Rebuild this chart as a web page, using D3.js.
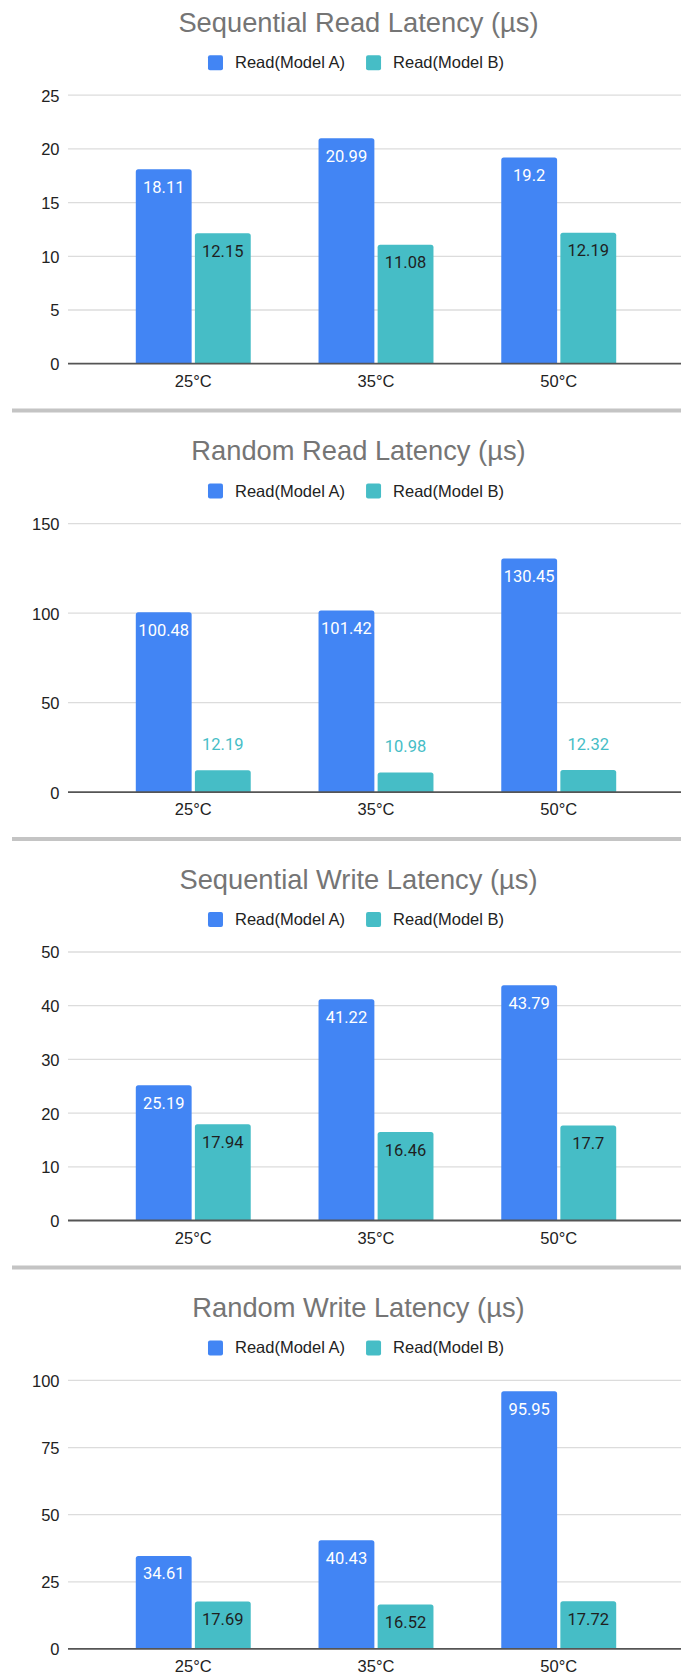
<!DOCTYPE html>
<html>
<head>
<meta charset="utf-8">
<script src="https://cdn.jsdelivr.net/npm/d3@7"></script>
<style>
  html, body { margin: 0; padding: 0; background: #fff; }
  svg { display: block; }
</style>
</head>
<body>
<svg id="chart" width="681" height="1677"></svg>
<script>
// Temperature categories shared by every panel
const categories = ["25°C", "35°C", "50°C"];
const seriesNames = ["Read(Model A)", "Read(Model B)"];
const seriesColors = ["#4285F4", "#46BDC6"];

// Panel titles
const panelTitles = [
  "Sequential Read Latency (µs)",
  "Random Read Latency (µs)",
  "Sequential Write Latency (µs)",
  "Random Write Latency (µs)"
];

// Latency values (µs) per panel, model A then model B
const seqReadA = [18.11, 20.99, 19.2];
const seqReadB = [12.15, 11.08, 12.19];
const randReadA = [100.48, 101.42, 130.45];
const randReadB = [12.19, 10.98, 12.32];
const seqWriteA = [25.19, 41.22, 43.79];
const seqWriteB = [17.94, 16.46, 17.7];
const randWriteA = [34.61, 40.43, 95.95];
const randWriteB = [17.69, 16.52, 17.72];

// Y-axis ticks per panel
const seqReadTicks = [0, 5, 10, 15, 20, 25];
const randReadTicks = [0, 50, 100, 150];
const seqWriteTicks = [0, 10, 20, 30, 40, 50];
const randWriteTicks = [0, 25, 50, 75, 100];

const panels = [
  { title: panelTitles[0], a: seqReadA, b: seqReadB, ticks: seqReadTicks },
  { title: panelTitles[1], a: randReadA, b: randReadB, ticks: randReadTicks },
  { title: panelTitles[2], a: seqWriteA, b: seqWriteB, ticks: seqWriteTicks },
  { title: panelTitles[3], a: randWriteA, b: randWriteB, ticks: randWriteTicks }
];

const svg = d3.select("#chart");
const W = 681;
const period = 428.4;
const firstTop = -17.8;
const plotLeft = 68, plotRight = 684;
const axisFont = "'Liberation Sans', Arial, Helvetica, sans-serif";
const labelFont = "Roboto, 'Liberation Sans', Arial, sans-serif";

// Rounded-top bar path
function barPath(x, y, w, h, r) {
  r = Math.min(r, h, w / 2);
  return `M${x},${y + h}V${y + r}Q${x},${y} ${x + r},${y}H${x + w - r}Q${x + w},${y} ${x + w},${y + r}V${y + h}Z`;
}

const x0 = d3.scaleBand().domain(categories).range([plotLeft, plotRight]).padding(0.371);
const x1 = d3.scaleBand().domain(seriesNames).range([0, x0.bandwidth()]).paddingInner(0.055);

panels.forEach((p, i) => {
  const top = firstTop + period * i;
  const g = svg.append("g");

  // separator above the panel
  if (i > 0) {
    g.append("line")
      .attr("x1", 12).attr("x2", W)
      .attr("y1", top).attr("y2", top)
      .attr("stroke", "#c4c4c4").attr("stroke-width", 4);
  }

  // title
  g.append("text")
    .attr("x", 358.5).attr("y", top + 49.5)
    .attr("text-anchor", "middle")
    .attr("font-family", axisFont).attr("font-size", 27.3)
    .attr("fill", "#757575")
    .text(p.title);

  // legend
  const legend = g.append("g");
  let lx = 0;
  seriesNames.forEach((name, k) => {
    const item = legend.append("g").attr("transform", `translate(${lx},0)`);
    item.append("rect")
      .attr("x", 0).attr("y", top + 73).attr("width", 15).attr("height", 15)
      .attr("rx", 2).attr("fill", seriesColors[k]);
    const t = item.append("text")
      .attr("x", 27).attr("y", top + 86)
      .attr("font-family", axisFont).attr("font-size", 16.5)
      .attr("fill", "#222")
      .text(name);
    lx += 27 + t.node().getComputedTextLength() + 21;
  });
  const legendWidth = lx - 21;
  legend.attr("transform", `translate(${356 - legendWidth / 2},0)`);

  // scales
  const yMax = p.ticks[p.ticks.length - 1];
  const y = d3.scaleLinear().domain([0, yMax]).range([top + 381.5, top + 113]);

  // gridlines
  g.append("g").selectAll("line")
    .data(p.ticks.filter(t => t > 0))
    .join("line")
    .attr("x1", plotLeft).attr("x2", plotRight)
    .attr("y1", d => y(d)).attr("y2", d => y(d))
    .attr("stroke", "#dcdcdc").attr("stroke-width", 1.3);

  // y axis labels
  const yAxis = d3.axisLeft(y).tickValues(p.ticks).tickSize(0).tickPadding(0).tickFormat(d3.format("d"));
  const ya = g.append("g").attr("transform", `translate(59.5,0)`).call(yAxis);
  ya.select(".domain").remove();
  ya.selectAll("text")
    .attr("font-family", axisFont).attr("font-size", 16.5)
    .attr("fill", "#222").attr("dy", "0.36em");

  // bars
  const groups = g.append("g").selectAll("g")
    .data(categories.map((c, j) => ({ cat: c, vals: [p.a[j], p.b[j]] })))
    .join("g")
    .attr("transform", d => `translate(${x0(d.cat)},0)`);

  groups.selectAll("path")
    .data(d => d.vals.map((v, k) => ({ v, k })))
    .join("path")
    .attr("d", d => {
      const bx = x1(seriesNames[d.k]);
      const by = y(d.v);
      return barPath(bx, by, x1.bandwidth(), y(0) - by, 2.5);
    })
    .attr("fill", d => seriesColors[d.k]);

  // value labels: inside the bar top, or above it when the bar is short
  groups.selectAll("text")
    .data(d => d.vals.map((v, k) => ({ v, k })))
    .join("text")
    .attr("x", d => x1(seriesNames[d.k]) + x1.bandwidth() / 2)
    .attr("y", d => {
      const h = y(0) - y(d.v);
      return h < 32 ? y(d.v) - 20.5 : y(d.v) + 23.5;
    })
    .attr("text-anchor", "middle")
    .attr("font-family", labelFont).attr("font-size", 16.5)
    .attr("fill", d => {
      const h = y(0) - y(d.v);
      if (h < 32) return seriesColors[d.k];
      return d.k === 0 ? "#ffffff" : "#1f1f1f";
    })
    .text(d => String(d.v));

  // baseline
  g.append("line")
    .attr("x1", plotLeft).attr("x2", plotRight)
    .attr("y1", y(0)).attr("y2", y(0))
    .attr("stroke", "#555").attr("stroke-width", 1.8);

  // x axis labels
  const xAxis = d3.axisBottom(x0).tickSize(0).tickPadding(0);
  const xa = g.append("g").attr("transform", `translate(0,${top + 404.5})`).call(xAxis);
  xa.select(".domain").remove();
  xa.selectAll("text")
    .attr("font-family", axisFont).attr("font-size", 16.5)
    .attr("fill", "#222").attr("dy", 0);
});
</script>
</body>
</html>
